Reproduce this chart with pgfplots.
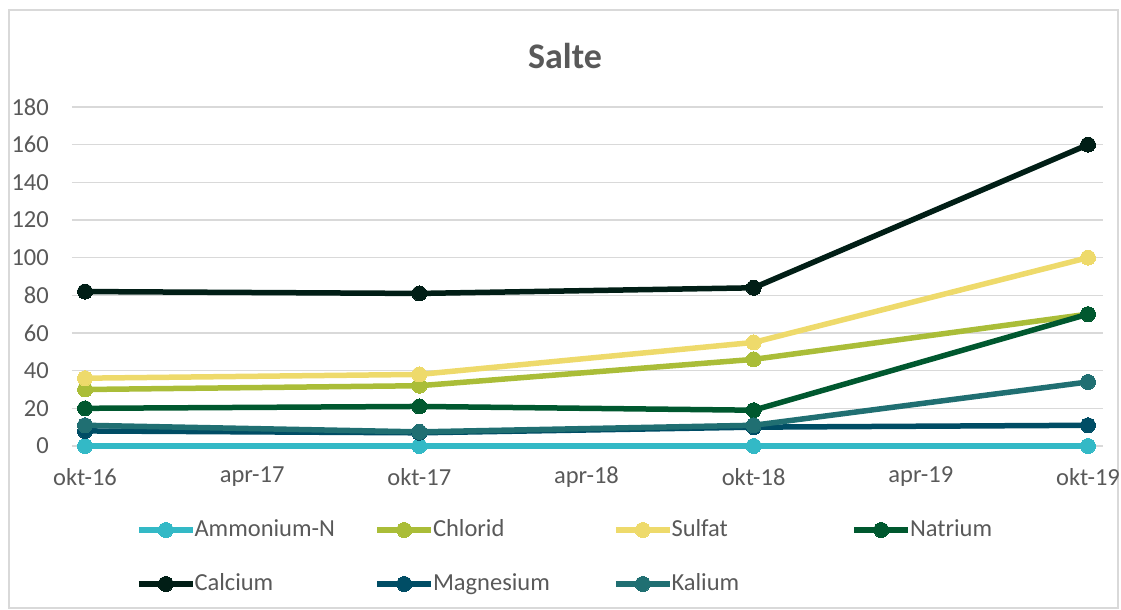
\documentclass[border=0pt]{standalone}
\usepackage{pgfplots}
\pgfplotsset{compat=1.18}
\usepackage{fontspec}
\setmainfont{Carlito}
\definecolor{txtgray}{HTML}{595959}
\definecolor{gridgray}{HTML}{D9D9D9}
\definecolor{framegray}{HTML}{D9D9D9}
\definecolor{cAmm}{HTML}{33B9C6}
\definecolor{cChl}{HTML}{AABD38}
\definecolor{cSul}{HTML}{EEDA6B}
\definecolor{cNat}{HTML}{00582F}
\definecolor{cCal}{HTML}{011E16}
\definecolor{cMag}{HTML}{004D65}
\definecolor{cKal}{HTML}{206F72}
\begin{document}
\begin{tikzpicture}[x=1bp,y=1bp]
\path[use as bounding box] (-72,-164) rectangle (1049,446);
\draw[line width=1.2bp, draw=framegray] (-63,-162) rectangle (1046,436);
\node[font=\fontsize{36bp}{40bp}\selectfont\bfseries, text=txtgray] at (493,390) {Salte};
\begin{axis}[
  at={(0,0)}, anchor=south west,
  scale only axis, width=1031bp, height=339bp,
  xmin=-0.467, xmax=36.54, ymin=0, ymax=180,
  clip=false,
  axis line style={draw=none}, tick style={draw=none}, major tick length=0pt,
  ymajorgrids, grid style={gridgray, line width=1.3bp},
  ytick={0,20,...,180},
  xtick={0,6,...,36},
  xticklabels={okt-16,apr-17,okt-17,apr-18,okt-18,apr-19,okt-19},
  /pgf/number format/assume math mode=true,
  xticklabel style={anchor=center, yshift=-31bp, font=\fontsize{24.5bp}{28bp}\selectfont, text=txtgray},
  yticklabel style={anchor=east, inner sep=0pt, xshift=-23bp, font=\fontsize{24.5bp}{28bp}\selectfont, text=txtgray},
  every axis plot/.append style={line width=5.5bp, mark=*, mark size=7.5bp, mark options={line width=0pt}},
  legend columns=4,
  legend style={at={(0,0)}, anchor=north west, xshift=64bp, yshift=-71.5bp,
    draw=none, fill=none, inner sep=0pt, outer sep=0pt,
    font=\fontsize{24.5bp}{28bp}\selectfont, text=txtgray,
    nodes={inner sep=0pt, text width=174bp, text height=19bp, text depth=6bp, align=left, anchor=west},
    /tikz/every odd column/.append style={column sep=-1bp},
    /tikz/every even column/.append style={column sep=6bp},
    row sep=29bp},
  legend image code/.code={\draw[mark repeat=2, mark phase=2, #1] plot coordinates {(0bp,0bp) (27bp,0bp) (54bp,0bp)};},
]
\addplot[color=cAmm] coordinates {(0,0) (12,0) (24,0) (36,0)};
\addlegendentry{Ammonium-N}
\addplot[color=cChl] coordinates {(0,30) (12,32) (24,46) (36,70)};
\addlegendentry{Chlorid}
\addplot[color=cSul] coordinates {(0,36) (12,38) (24,55) (36,100)};
\addlegendentry{Sulfat}
\addplot[color=cNat] coordinates {(0,20) (12,21) (24,19) (36,70)};
\addlegendentry{Natrium}
\addplot[color=cCal] coordinates {(0,82) (12,81) (24,84) (36,160)};
\addlegendentry{Calcium}
\addplot[color=cMag] coordinates {(0,8) (12,7) (24,10) (36,11)};
\addlegendentry{Magnesium}
\addplot[color=cKal] coordinates {(0,11) (12,7.5) (24,11) (36,34)};
\addlegendentry{Kalium}
\end{axis}
\end{tikzpicture}
\end{document}
